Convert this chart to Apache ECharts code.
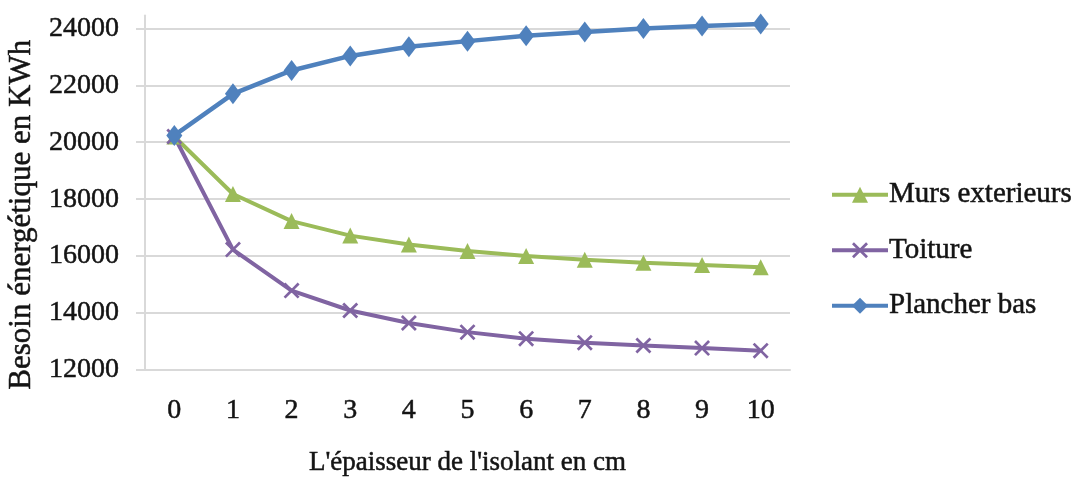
<!DOCTYPE html>
<html>
<head>
<meta charset="utf-8">
<script src="https://cdn.jsdelivr.net/npm/echarts@6/dist/echarts.min.js"></script>
<style>
  html, body { margin: 0; padding: 0; background: #ffffff; }
  #chart { width: 1080px; height: 478px; }
</style>
</head>
<body>
<div id="chart"></div>
<script>
// Insulation thickness (cm)
const thickness = ['0', '1', '2', '3', '4', '5', '6', '7', '8', '9', '10'];

// Energy demand (kWh) per insulated element
const mursExterieurs = [20200, 18180, 17230, 16720, 16410, 16180, 16000, 15870, 15770, 15690, 15610];
const toiture        = [20200, 16230, 14790, 14090, 13650, 13330, 13100, 12960, 12860, 12770, 12680];
const plancherBas    = [20240, 21700, 22520, 23030, 23350, 23550, 23740, 23870, 23990, 24080, 24150];

const yTicks = { min: 12000, max: 24450, step: 2000 };

const textColor = '#141414';
const serif = '"Liberation Serif", "DejaVu Serif", serif';
const heavy = { textBorderColor: textColor, textBorderWidth: 0.5 };
const crossPath = 'path://M0,1.2 L1.2,0 L5,3.8 L8.8,0 L10,1.2 L6.2,5 L10,8.8 L8.8,10 L5,6.2 L1.2,10 L0,8.8 L3.8,5 Z';

const chart = echarts.init(document.getElementById('chart'), null, { renderer: 'canvas' });

chart.setOption({
  backgroundColor: '#ffffff',
  animation: false,
  textStyle: { fontFamily: serif, color: textColor },
  grid: { left: 145, right: 290, top: 15.5, bottom: 108, containLabel: false, outerBoundsMode: 'none' },
  legend: {
    orient: 'vertical',
    left: 830,
    top: 180,
    padding: 0,
    itemWidth: 56,
    itemHeight: 20,
    itemGap: 26,
    lineStyle: { width: 4 },
    textStyle: Object.assign({ fontFamily: serif, fontSize: 29, color: textColor, padding: [0, 0, 0, -4] }, heavy),
    data: ['Murs exterieurs', 'Toiture', 'Plancher bas']
  },
  xAxis: {
    type: 'category',
    data: thickness,
    boundaryGap: true,
    name: "L'épaisseur de l'isolant en cm",
    nameLocation: 'middle',
    nameGap: 79,
    nameTextStyle: Object.assign({ fontFamily: serif, fontSize: 27, color: textColor }, heavy),
    axisLine: { show: true, lineStyle: { color: '#d9d9d9', width: 2 } },
    axisTick: { show: false },
    axisLabel: Object.assign({ fontFamily: serif, fontSize: 28, color: textColor, margin: 27 }, heavy),
    splitLine: { show: false }
  },
  yAxis: {
    type: 'value',
    min: yTicks.min,
    max: yTicks.max,
    interval: yTicks.step,
    name: 'Besoin énergétique en KWh',
    nameLocation: 'middle',
    nameGap: 106,
    nameRotate: 90,
    nameTextStyle: Object.assign({ fontFamily: serif, fontSize: 31, color: textColor, padding: [0, 44, 0, 0] }, heavy),
    axisLine: { show: true, lineStyle: { color: '#d9d9d9', width: 2 } },
    axisTick: { show: true, length: 9, inside: false, lineStyle: { color: '#d9d9d9', width: 2 } },
    axisLabel: Object.assign({
      fontFamily: serif, fontSize: 28, color: textColor, margin: 26,
      showMaxLabel: false,
      formatter: v => (v % yTicks.step === 0 ? String(v) : '')
    }, heavy),
    splitLine: { show: true, showMaxLine: false, lineStyle: { color: '#d9d9d9', width: 2 } }
  },
  series: [
    {
      name: 'Murs exterieurs',
      type: 'line',
      data: mursExterieurs,
      color: '#9bbb59',
      symbol: 'triangle',
      symbolSize: 16,
      lineStyle: { width: 4, color: '#9bbb59' },
      itemStyle: { color: '#9bbb59' },
      z: 2
    },
    {
      name: 'Toiture',
      type: 'line',
      data: toiture,
      color: '#8064a2',
      symbol: crossPath,
      symbolSize: 16,
      lineStyle: { width: 4, color: '#8064a2' },
      itemStyle: { color: '#8064a2' },
      z: 2
    },
    {
      name: 'Plancher bas',
      type: 'line',
      data: plancherBas,
      color: '#4f81bd',
      symbol: 'diamond',
      symbolSize: [16, 21],
      lineStyle: { width: 4.5, color: '#4f81bd' },
      itemStyle: { color: '#4f81bd' },
      z: 3
    }
  ]
});
</script>
</body>
</html>
